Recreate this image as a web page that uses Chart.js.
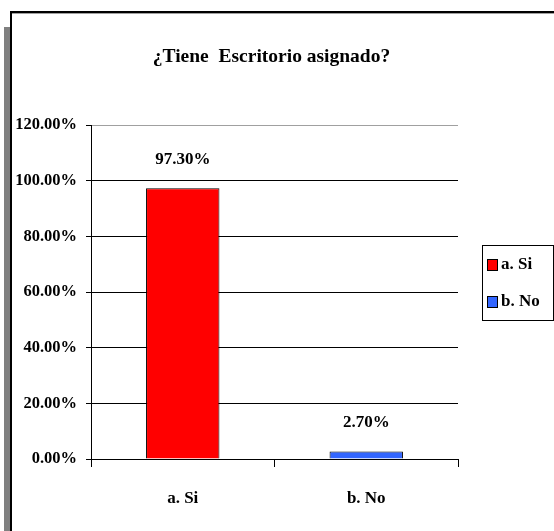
<!DOCTYPE html>
<html>
<head>
<meta charset="utf-8">
<script src="https://cdn.jsdelivr.net/npm/chart.js@4"></script>
<style>
  html, body { margin: 0; padding: 0; background: #fff; }
  #wrap { width: 554px; height: 531px; }
</style>
</head>
<body>
<div id="wrap"><canvas id="c" width="554" height="531"></canvas></div>
<script>
// Survey answers, percentages
const categories = ['a. Si', 'b. No'];
const values = [97.30, 2.70];
const barColors = ['#ff0000', '#3366ff'];
const yTickValues = [0, 20, 40, 60, 80, 100, 120];
const chartTitle = '¿Tiene  Escritorio asignado?';

const FONT = 'Liberation Serif';
Chart.defaults.font.family = FONT;
Chart.defaults.font.weight = 'bold';
Chart.defaults.font.size = 17;
Chart.defaults.color = '#000';

const pct = v => Number(v).toFixed(2) + '%';

// Outer frame with its grey left shadow
const framePlugin = {
  id: 'frame',
  beforeDraw(chart) {
    const ctx = chart.ctx;
    ctx.save();
    ctx.fillStyle = '#fff';
    ctx.fillRect(0, 0, chart.width, chart.height);
    ctx.fillStyle = '#808080';
    ctx.fillRect(4, 27, 6, chart.height - 27);
    ctx.strokeStyle = '#000';
    ctx.lineWidth = 2;
    ctx.beginPath();
    ctx.moveTo(11, chart.height);
    ctx.lineTo(11, 12);
    ctx.lineTo(chart.width, 12);
    ctx.stroke();
    ctx.strokeStyle = '#a0a0a0';
    ctx.lineWidth = 1;
    ctx.beginPath();
    ctx.moveTo(12, 13.5);
    ctx.lineTo(chart.width, 13.5);
    ctx.stroke();
    ctx.restore();
  }
};

// Title, value labels and legend
const annotatePlugin = {
  id: 'annotate',
  afterDatasetsDraw(chart) {
    const ctx = chart.ctx;
    ctx.save();
    ctx.fillStyle = '#000';
    ctx.textAlign = 'center';
    ctx.textBaseline = 'middle';

    ctx.font = 'bold 19.5px ' + FONT;
    ctx.fillText(chartTitle, 271.5, 57);

    ctx.font = 'bold 17px ' + FONT;
    const meta = chart.getDatasetMeta(0);
    meta.data.forEach((bar, i) => {
      ctx.fillText(pct(values[i]), bar.x, bar.y - 29);
    });

    // legend box
    const lx = 482, ly = 245, lw = 71, lh = 75, row = 37;
    ctx.strokeStyle = '#000';
    ctx.lineWidth = 1;
    ctx.strokeRect(lx + 0.5, ly + 0.5, lw, lh);
    ctx.textAlign = 'left';
    categories.forEach((name, i) => {
      const cy = ly + 20 + i * row;
      ctx.fillStyle = barColors[i];
      ctx.fillRect(487, cy - 6, 11, 12);
      ctx.strokeRect(487.5, cy - 5.5, 10, 11);
      ctx.fillStyle = '#000';
      ctx.fillText(name, 501, cy);
    });
    ctx.restore();
  }
};

new Chart(document.getElementById('c'), {
  type: 'bar',
  data: {
    labels: categories,
    datasets: [{
      data: values,
      backgroundColor: barColors,
      borderColor: '#000',
      borderWidth: 1,
      categoryPercentage: 0.4,
      barPercentage: 1.0
    }]
  },
  options: {
    responsive: false,
    animation: false,
    devicePixelRatio: 1,
    layout: { padding: { left: 0, right: 96, top: 125, bottom: 0 } },
    plugins: {
      legend: { display: false },
      title: { display: false },
      tooltip: { enabled: false }
    },
    scales: {
      x: {
        grid: {
          offset: true,
          color: ctx => ctx.index === 0 ? '#000' : (ctx.index === categories.length ? '#a0a0a0' : 'rgba(0,0,0,0)'),
          tickColor: '#000',
          tickLength: 8,
          lineWidth: 1
        },
        border: { color: '#000', width: 1 },
        ticks: { padding: 21, font: { size: 17, weight: 'bold' }, color: '#000' },
        afterFit(scale) { scale.height = 72; }
      },
      y: {
        min: 0,
        max: 120,
        afterBuildTicks(scale) { scale.ticks = yTickValues.map(v => ({ value: v })); },
        grid: {
          color: ctx => (ctx.tick && ctx.tick.value === 120) ? '#a0a0a0' : '#000',
          tickColor: '#000',
          tickLength: 5,
          lineWidth: 1
        },
        border: { color: '#000', width: 1 },
        ticks: {
          padding: 9,
          font: { size: 16.5, weight: 'bold' },
          color: '#000',
          callback: v => pct(v)
        },
        afterFit(scale) { scale.width = 91; }
      }
    }
  },
  plugins: [framePlugin, annotatePlugin]
});
</script>
</body>
</html>
